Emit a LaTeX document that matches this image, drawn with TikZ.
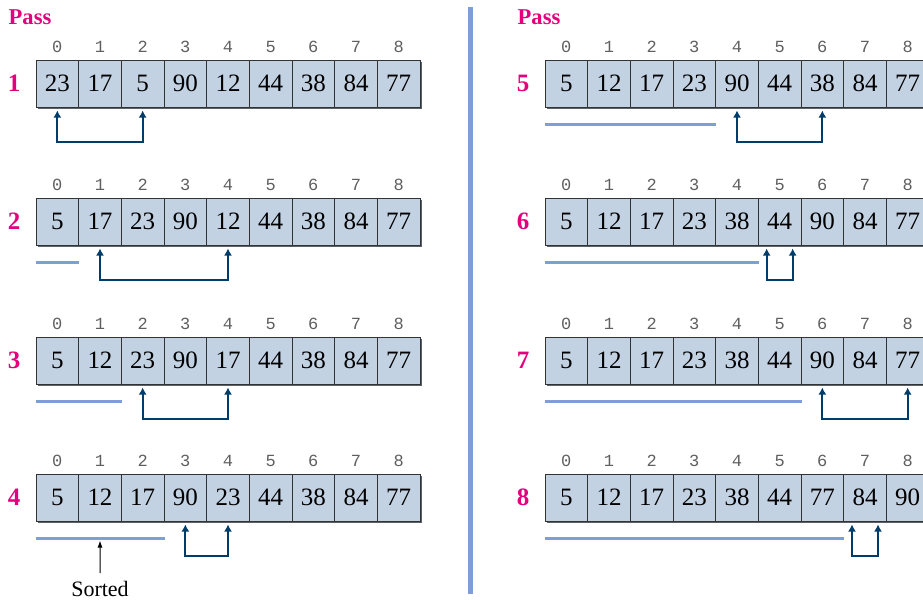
\documentclass[tikz,border=0pt]{standalone}
\usepackage{fontspec}
\setmainfont{Liberation Serif}
\setmonofont{Liberation Mono}
\usetikzlibrary{positioning, arrows.meta, calc}
\definecolor{passpink}{HTML}{E4007C}
\definecolor{cellfill}{HTML}{C3D2E3}
\definecolor{swapblue}{HTML}{003D6B}
\definecolor{sortblue}{HTML}{7E9ED6}
\definecolor{shadowc}{HTML}{5A626C}
\definecolor{idxgray}{HTML}{5F5F5F}

% one pass: #1 pass number, #2 left edge, #3 row centre, #4 values
\newcommand\passrow[4]{%
  \fill[shadowc] (#2+2,#3-21.5) rectangle (#2+386,#3+25.5);
  \node[passno] (n#1) at (#2-22,#3) {#1};
  \foreach \v [count=\i from 0] in {#4} {
    \node[cell] (r#1-\i) at (#2+21.333+42.667*\i,#3) {\v};
    \node[idx] (i#1-\i) at (#2+21.333+42.667*\i,#3-37) {\i};
  }%
}

\begin{document}
\begin{tikzpicture}[x=0.5pt, y=-0.5pt,
  cell/.style={draw=black!80, line width=0.5pt, fill=cellfill, minimum width=21.333pt,
    minimum height=23.5pt, inner sep=0pt, font=\fontsize{12.5}{14}\selectfont},
  idx/.style={text=idxgray, inner sep=0pt, font=\ttfamily\fontsize{8.5}{10}\selectfont},
  passno/.style={text=passpink, inner sep=0pt, font=\bfseries\fontsize{12.5}{14}\selectfont},
  passhead/.style={text=passpink, inner sep=0pt, font=\bfseries\fontsize{11.3}{13}\selectfont},
  swaparrow/.style={draw=swapblue, line width=1pt, {Latex[length=3.5pt,width=4pt]}-{Latex[length=3.5pt,width=4pt]}},
  sortedline/.style={draw=sortblue, line width=1.5pt},
  divider/.style={draw=sortblue, line width=2.5pt},
  sortedtxt/.style={inner sep=1pt, font=\fontsize{11}{13}\selectfont}
]
  \clip (0,0) rectangle (923,600);

  \node[passhead] (ph-l) at (30,17) {Pass};
  \node[passhead] (ph-r) at (539,17) {Pass};
  \draw[divider] (470.5,7) -- (470.5,594);

  % left column
  \passrow{1}{36}{83.5}{23,17,5,90,12,44,38,84,77}
  \passrow{2}{36}{221.5}{5,17,23,90,12,44,38,84,77}
  \passrow{3}{36}{360.5}{5,12,23,90,17,44,38,84,77}
  \passrow{4}{36}{497.5}{5,12,17,90,23,44,38,84,77}
  % right column
  \passrow{5}{545}{83.5}{5,12,17,23,90,44,38,84,77}
  \passrow{6}{545}{221.5}{5,12,17,23,38,44,90,84,77}
  \passrow{7}{545}{360.5}{5,12,17,23,38,44,90,84,77}
  \passrow{8}{545}{497.5}{5,12,17,23,38,44,77,84,90}

  % sorted part
  \draw[sortedline] ([yshift=-8.5pt]r2-0.south west) -- ([yshift=-8.5pt]r2-0.south east);
  \draw[sortedline] ([yshift=-8.5pt]r3-0.south west) -- ([yshift=-8.5pt]r3-1.south east);
  \draw[sortedline] ([yshift=-8.5pt]r4-0.south west) coordinate (s4a) -- ([yshift=-8.5pt]r4-2.south east) coordinate (s4b);
  \draw[sortedline] ([yshift=-8.5pt]r5-0.south west) -- ([yshift=-8.5pt]r5-3.south east);
  \draw[sortedline] ([yshift=-8.5pt]r6-0.south west) -- ([yshift=-8.5pt]r6-4.south east);
  \draw[sortedline] ([yshift=-8.5pt]r7-0.south west) -- ([yshift=-8.5pt]r7-5.south east);
  \draw[sortedline] ([yshift=-8.5pt]r8-0.south west) -- ([yshift=-8.5pt]r8-6.south east);

  \coordinate (s4m) at ($(s4a)!0.5!(s4b)$);
  \node[sortedtxt, anchor=north] (srt) at (100,579) {Sorted};
  \draw[black, line width=0.5pt, -{Latex[length=3.5pt,width=2.5pt]}] ([yshift=3pt]srt.north) -- ([yshift=-1pt]s4m);

  % swaps
  \draw[swaparrow] ([yshift=-1.5pt]r1-0.south) -- ++(0,31) -| ([yshift=-1.5pt]r1-2.south);
  \draw[swaparrow] ([yshift=-1.5pt]r2-1.south) -- ++(0,31) -| ([yshift=-1.5pt]r2-4.south);
  \draw[swaparrow] ([yshift=-1.5pt]r3-2.south) -- ++(0,31) -| ([yshift=-1.5pt]r3-4.south);
  \draw[swaparrow] ([yshift=-1.5pt]r4-3.south) -- ++(0,31) -| ([yshift=-1.5pt]r4-4.south);
  \draw[swaparrow] ([yshift=-1.5pt]r5-4.south) -- ++(0,31) -| ([yshift=-1.5pt]r5-6.south);
  \draw[swaparrow] ([xshift=-6.5pt,yshift=-1.5pt]r6-5.south) -- ++(0,31) -| ([xshift=6.5pt,yshift=-1.5pt]r6-5.south);
  \draw[swaparrow] ([yshift=-1.5pt]r7-6.south) -- ++(0,31) -| ([yshift=-1.5pt]r7-8.south);
  \draw[swaparrow] ([xshift=-6.5pt,yshift=-1.5pt]r8-7.south) -- ++(0,31) -| ([xshift=6.5pt,yshift=-1.5pt]r8-7.south);
\end{tikzpicture}
\end{document}
